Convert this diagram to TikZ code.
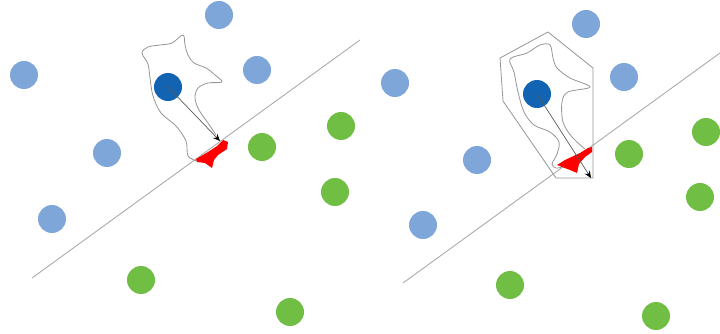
\documentclass[tikz,border=0pt]{standalone}
\usetikzlibrary{arrows.meta}
\definecolor{lblue}{HTML}{7EA6D8}
\definecolor{dblue}{HTML}{1363B3}
\definecolor{lgreen}{HTML}{70BE44}
\definecolor{sepgray}{HTML}{ABABAB}
\definecolor{outgray}{HTML}{959595}
\begin{document}
\begin{tikzpicture}[x=1pt,y=-1pt,
  pt/.style={circle,minimum size=28pt,inner sep=0pt,draw=none},
  lb/.style={pt,fill=lblue},
  db/.style={pt,fill=dblue},
  gr/.style={pt,fill=lgreen},
  sep/.style={draw=sepgray,line width=0.9pt},
  outl/.style={draw=outgray,line width=0.8pt},
  redpart/.style={fill=red,draw=none},
  arr/.style={draw=black!65,line width=0.7pt,-{Stealth[length=7pt,width=6pt,black]}}]
\useasboundingbox (0,0) rectangle (720,334);
% ---------- left panel ----------
\coordinate (L1) at (32,278);
\coordinate (L2) at (360,40);
\draw[sep] (L1) -- (L2);
\node[lb] (a1) at (219,15) {};
\node[lb] (a2) at (24,75) {};
\node[lb] (a3) at (257,70) {};
\node[lb] (a4) at (107,153) {};
\node[lb] (a5) at (52,219) {};
\node[gr] (g1) at (341,126) {};
\node[gr] (g2) at (262,147) {};
\node[gr] (g3) at (335,192) {};
\node[gr] (g4) at (141,280) {};
\node[gr] (g5) at (290,312) {};
\draw[outl] plot[smooth,tension=0.55] coordinates {(197,161) (188,156) (186,141) (176,126) (161,113) (153,96) (150,78) (148,64) (142,53) (148,47) (160,45) (172,43) (183,35) (185,45) (188,55) (194,63) (206,68) (215,75) (222,82) (208,83) (198,88) (195,98) (199,110) (208,123) (216,135)};
\fill[redpart] (196,159) -- (208,152) -- (217,146) -- (223,140) -- (228,142) -- (227,149) -- (218,155) -- (214,160) -- (212,168) -- (205,163) -- (197,162) -- cycle;
\node[db] (d1) at (168,87) {};
\coordinate (t1) at (220,141);
\draw[arr] (d1.center) -- (t1);
% ---------- right panel ----------
\coordinate (R1) at (403,283);
\coordinate (R2) at (720,53);
\draw[sep] (R1) -- (R2);
\node[lb] (b1) at (586,24) {};
\node[lb] (b2) at (395,83) {};
\node[lb] (b3) at (624,77) {};
\node[lb] (b4) at (477,160) {};
\node[lb] (b5) at (423,225) {};
\node[gr] (h1) at (706,132) {};
\node[gr] (h2) at (629,154) {};
\node[gr] (h3) at (700,197) {};
\node[gr] (h4) at (510,285) {};
\node[gr] (h5) at (656,316) {};
\draw[outl] (500,58) -- (548,32) -- (593,68) -- (593,178) -- (556,178) -- (503,101) -- cycle;
\draw[outl] plot[smooth,tension=0.55] coordinates {(562,167) (556,168) (552,164) (557,154) (559,142) (550,132) (534,125) (524,112) (518,92) (514,72) (510,59) (527,53) (540,45) (550,45) (553,58) (557,68) (570,78) (590,87) (568,92) (562,102) (563,122) (572,137) (585,149)};
\fill[redpart] (557,165) -- (565,160) -- (580,153) -- (588,148) -- (592,147) -- (592,152) -- (585,157) -- (579,164) -- (577,173) -- (570,170) -- (562,167) -- cycle;
\node[db] (d2) at (537,94) {};
\coordinate (t2) at (591,178);
\draw[arr] (d2.center) -- (t2);
\end{tikzpicture}
\end{document}
